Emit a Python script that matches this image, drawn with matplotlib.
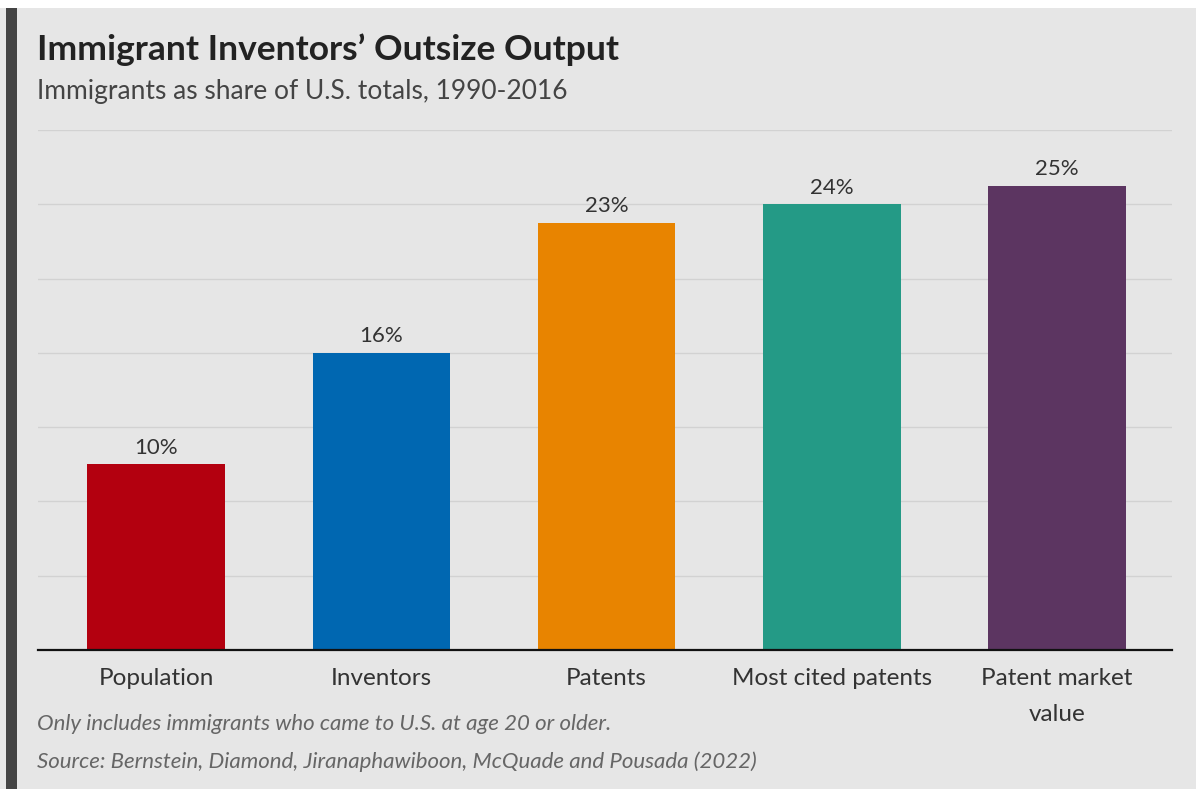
import matplotlib.pyplot as plt
from matplotlib.patches import Rectangle

categories = ["Population", "Inventors", "Patents", "Most cited patents", "Patent market\nvalue"]
shares = [10, 16, 23, 24, 25]
labels = ["10%", "16%", "23%", "24%", "25%"]
colors = ["#b3000f", "#0067b1", "#e88400", "#249a86", "#5c3561"]

plt.rcParams['font.family'] = ['Lato', 'DejaVu Sans']

bg = "#e6e6e6"
fig = plt.figure(figsize=(11.96, 7.89), dpi=100)
fig.patch.set_facecolor("white")

# grey panel and dark strip on the left
fig.patches.append(Rectangle((0.0, 0.0), 1.0, 1 - 8 / 789, transform=fig.transFigure,
                             facecolor=bg, edgecolor="none", zorder=-2))
fig.patches.append(Rectangle((6 / 1196, 0.0), 11 / 1196, 1 - 8 / 789, transform=fig.transFigure,
                             facecolor="#444444", edgecolor="none", zorder=-1))

ax = fig.add_axes([38 / 1196, 1 - 650 / 789, (1172 - 38) / 1196, (650 - 130) / 789])
ax.set_facecolor(bg)
ax.set_zorder(2)

x = range(len(categories))
ax.bar(x, shares, width=0.61, color=colors, zorder=3)
for i, v in enumerate(shares):
    ax.text(i, v + 0.35, labels[i], ha="center", va="bottom", fontsize=16, color="#333333")

ax.set_ylim(0, 28)
ax.set_xlim(-0.524, 4.51)
ax.set_yticks(range(4, 29, 4))
ax.yaxis.grid(True, color="#d2d2d2", linewidth=1)
ax.tick_params(axis="y", left=False, labelleft=False)
ax.tick_params(axis="x", length=0, pad=13, labelsize=17.5, labelcolor="#333333")
ax.set_xticks(list(x))
ax.set_xticklabels(categories, linespacing=1.85, va="top")
for s in ["top", "right", "left"]:
    ax.spines[s].set_visible(False)
ax.spines["bottom"].set_color("#111111")
ax.spines["bottom"].set_linewidth(1.6)
ax.spines["bottom"].set_zorder(4)

fig.text(37 / 1196, 1 - 50 / 789, "Immigrant Inventors\u2019 Outsize Output", fontsize=25.5,
         fontweight="bold", color="#222222", va="center")
fig.text(37 / 1196, 1 - 92 / 789, "Immigrants as share of U.S. totals, 1990-2016", fontsize=19,
         color="#444444", va="center")
fig.text(37 / 1196, 1 - 724 / 789, "Only includes immigrants who came to U.S. at age 20 or older.",
         fontsize=16, style="italic", color="#666666", va="center")
fig.text(37 / 1196, 1 - 762 / 789, "Source: Bernstein, Diamond, Jiranaphawiboon, McQuade and Pousada (2022)",
         fontsize=16, style="italic", color="#666666", va="center")

fig.savefig("out.png", dpi=100, facecolor=fig.get_facecolor())
